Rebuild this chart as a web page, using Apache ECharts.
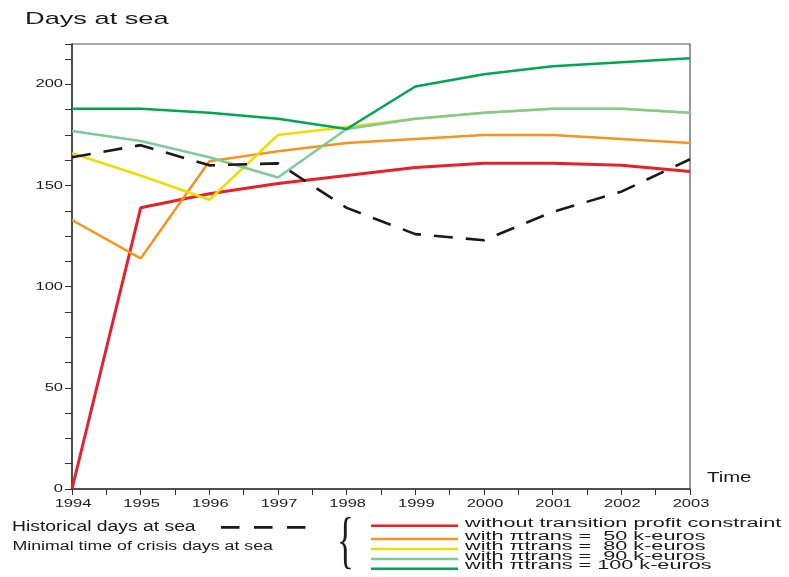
<!DOCTYPE html>
<html>
<head>
<meta charset="utf-8">
<script src="https://cdn.jsdelivr.net/npm/echarts@6/dist/echarts.min.js"></script>
<style>html,body{margin:0;padding:0;background:#fff;}#c{width:789px;height:577px;}</style>
</head>
<body>
<div id="c"></div>
<script>
const years = [1994, 1995, 1996, 1997, 1998, 1999, 2000, 2001, 2002, 2003];
const historical   = [164, 170, 160, 161, 139, 126, 123, 137, 147, 163];
const noConstraint = [0, 139, 146, 151, 155, 159, 161, 161, 160, 157];
const trans50  = [133, 114, 162, 167, 171, 173, 175, 175, 173, 171];
const trans80  = [166, 155, 143, 175, 179, 183, 186, 188, 188, 186];
const trans90  = [177, 172, 164, 154, 178, 183, 186, 188, 188, 186];
const trans100 = [188, 188, 186, 183, 178, 199, 205, 209, 211, 213];
const yTickLabels = [0, 50, 100, 150, 200];
const xTickLabels = years;

const titleText = 'Days at sea';
const xName = 'Time';
const histName = 'Historical days at sea';
const crisisName = 'Minimal time of crisis days at sea';
const scenarioNames = [
  'without transition profit constraint',
  'with \u03c0trans =  50 k-euros',
  'with \u03c0trans =  80 k-euros',
  'with \u03c0trans =  90 k-euros',
  'with \u03c0trans = 100 k-euros'
];
const scenarioData = [noConstraint, trans50, trans80, trans90, trans100];
const scenarioColors = ['#e8202a', '#f7941d', '#eedd00', '#80c99b', '#00a651'];
const scenarioWidths = [3, 2.5, 2.5, 2.5, 2.5];

const FONT = 'Liberation Sans, Arial, sans-serif';
const pair = arr => years.map((y, i) => [y, arr[i]]);

function txt(text, x, y, size, sx, align) {
  return {
    type: 'text', x, y, scaleX: sx, z: 100,
    style: { text, x: 0, y: 0, fontSize: size, fontFamily: FONT, fill: '#1a1a1a',
      align: align || 'left', textAlign: align || 'left',
      verticalAlign: 'middle', textVerticalAlign: 'middle' }
  };
}

const series = scenarioNames.map((n, i) => ({
  name: n, type: 'line', data: pair(scenarioData[i]), symbol: 'none', animation: false,
  lineStyle: { color: scenarioColors[i], width: scenarioWidths[i] },
  itemStyle: { color: scenarioColors[i] }
}));
series.push({
  name: histName, type: 'line', data: pair(historical), symbol: 'none', animation: false,
  lineStyle: { color: '#1a1a1a', width: 2.6, type: [19, 13] }
});

const chart = echarts.init(document.getElementById('c'));
chart.setOption({
  backgroundColor: '#fff',
  animation: false,
  grid: { left: 72, right: 99, top: 44, bottom: 88, show: true, borderColor: '#555', borderWidth: 1.2 },
  xAxis: {
    type: 'value', min: 1994, max: 2003, interval: 0.5,
    axisLine: { lineStyle: { color: '#333', width: 1.5 } },
    axisTick: { inside: false, length: 6, lineStyle: { color: '#333' } },
    axisLabel: { show: false },
    splitLine: { show: false }
  },
  yAxis: {
    type: 'value', min: 0, max: 220, interval: 12.5,
    axisLine: { show: true, lineStyle: { color: '#333', width: 1.5 } },
    axisTick: { show: true, length: 7, lineStyle: { color: '#333' } },
    axisLabel: { show: false },
    splitLine: { show: false }
  },
  series
});

// tick labels and texts (horizontally stretched like the reference), positioned via the axes
const g = [];
xTickLabels.forEach(v => {
  const p = chart.convertToPixel({ gridIndex: 0 }, [v, 0]);
  g.push(txt(String(v), p[0] + 1, p[1] + 14.5, 11, 1.5, 'center'));
});
yTickLabels.forEach(v => {
  const p = chart.convertToPixel({ gridIndex: 0 }, [1994, v]);
  g.push(txt(String(v), p[0] - 9, p[1], 11, 1.5, 'right'));
});
g.push(txt(titleText, 25, 19, 17, 1.6));
g.push(txt(xName, 707, 478, 14, 1.45));
g.push(txt(histName, 12, 526.7, 14, 1.38));
g.push(txt(crisisName, 12.5, 546.2, 12.5, 1.42));
g.push({ type: 'line', z: 100, shape: { x1: 221, y1: 527.3, x2: 307, y2: 527.3 },
  style: { stroke: '#1a1a1a', lineWidth: 2.7, lineDash: [18.5, 14.5] } });
g.push({ type: 'text', x: 337, y: 512, scaleX: 0.55, z: 100,
  style: { text: '{', x: 0, y: 0, fontSize: 64, fontFamily: 'Liberation Serif, serif', fill: '#1a1a1a' } });
const rowText = [523.8, 536.2, 546.5, 556.5, 565.8];
const rowLine = [525.7, 539, 549, 559, 568.7];
scenarioNames.forEach((n, i) => {
  g.push({ type: 'line', z: 100, shape: { x1: 371, y1: rowLine[i], x2: 458, y2: rowLine[i] },
    style: { stroke: scenarioColors[i], lineWidth: 2.5 } });
  g.push(txt(n, 465, rowText[i], 12.3, 1.76));
});
chart.setOption({ graphic: g });
</script>
</body>
</html>
